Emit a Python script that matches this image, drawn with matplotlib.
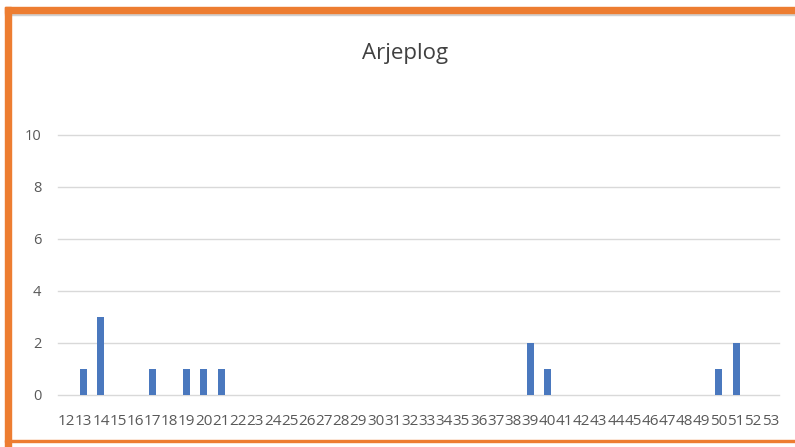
import matplotlib.pyplot as plt
from matplotlib.patches import Rectangle

categories = [str(n) for n in range(12, 54)]
counts = {"13": 1, "14": 3, "17": 1, "19": 1, "20": 1, "21": 1,
          "39": 2, "40": 1, "50": 1, "51": 2}
values = [counts.get(c, 0) for c in categories]

plt.rcParams['font.family'] = ['Open Sans', 'DejaVu Sans']

W, H = 795, 447
fig = plt.figure(figsize=(W / 100, H / 100), dpi=100)
ax = fig.add_axes([58 / W, 1 - 395 / H, (779 - 58) / W, (395 - 135) / H])

x = range(len(categories))
ax.bar(x, values, width=0.4, color="#4A78BE", zorder=3)
ax.set_xlim(-0.5, len(categories) - 0.5)
ax.set_ylim(0, 10)
ax.set_yticks(range(0, 11, 2))
ax.set_xticks(list(x))
ax.set_xticklabels(categories)
for gl in range(0, 11, 2):
    ax.axhline(gl, color="#D9D9D9", linewidth=1, zorder=0, clip_on=False)
for s in ax.spines.values():
    s.set_visible(False)
ax.tick_params(length=0, colors="#595959")
ax.tick_params(axis="x", pad=14, labelsize=11)
ax.tick_params(axis="y", pad=12, labelsize=10.5)
fig.text(405 / W, 1 - 53 / H, "Arjeplog", ha="center", va="center",
         fontsize=16, color="#404040")

# orange frame
orange = "#ED7D31"
fig.patches.append(Rectangle((5 / W, 1 - 13 / H), 1, 6 / H, transform=fig.transFigure,
                             color=orange, zorder=5))
fig.patches.append(Rectangle((5 / W, 1 - 15 / H), 1, 2 / H, transform=fig.transFigure,
                             color="#D0D0D0", zorder=4))
fig.patches.append(Rectangle((5 / W, 0), 6 / W, 1 - 7 / H, transform=fig.transFigure,
                             color=orange, zorder=5))
fig.patches.append(Rectangle((5 / W, 1 - 442 / H), 1, 2 / H, transform=fig.transFigure,
                             color=orange, zorder=5))

fig.savefig("out.png", dpi=100)
